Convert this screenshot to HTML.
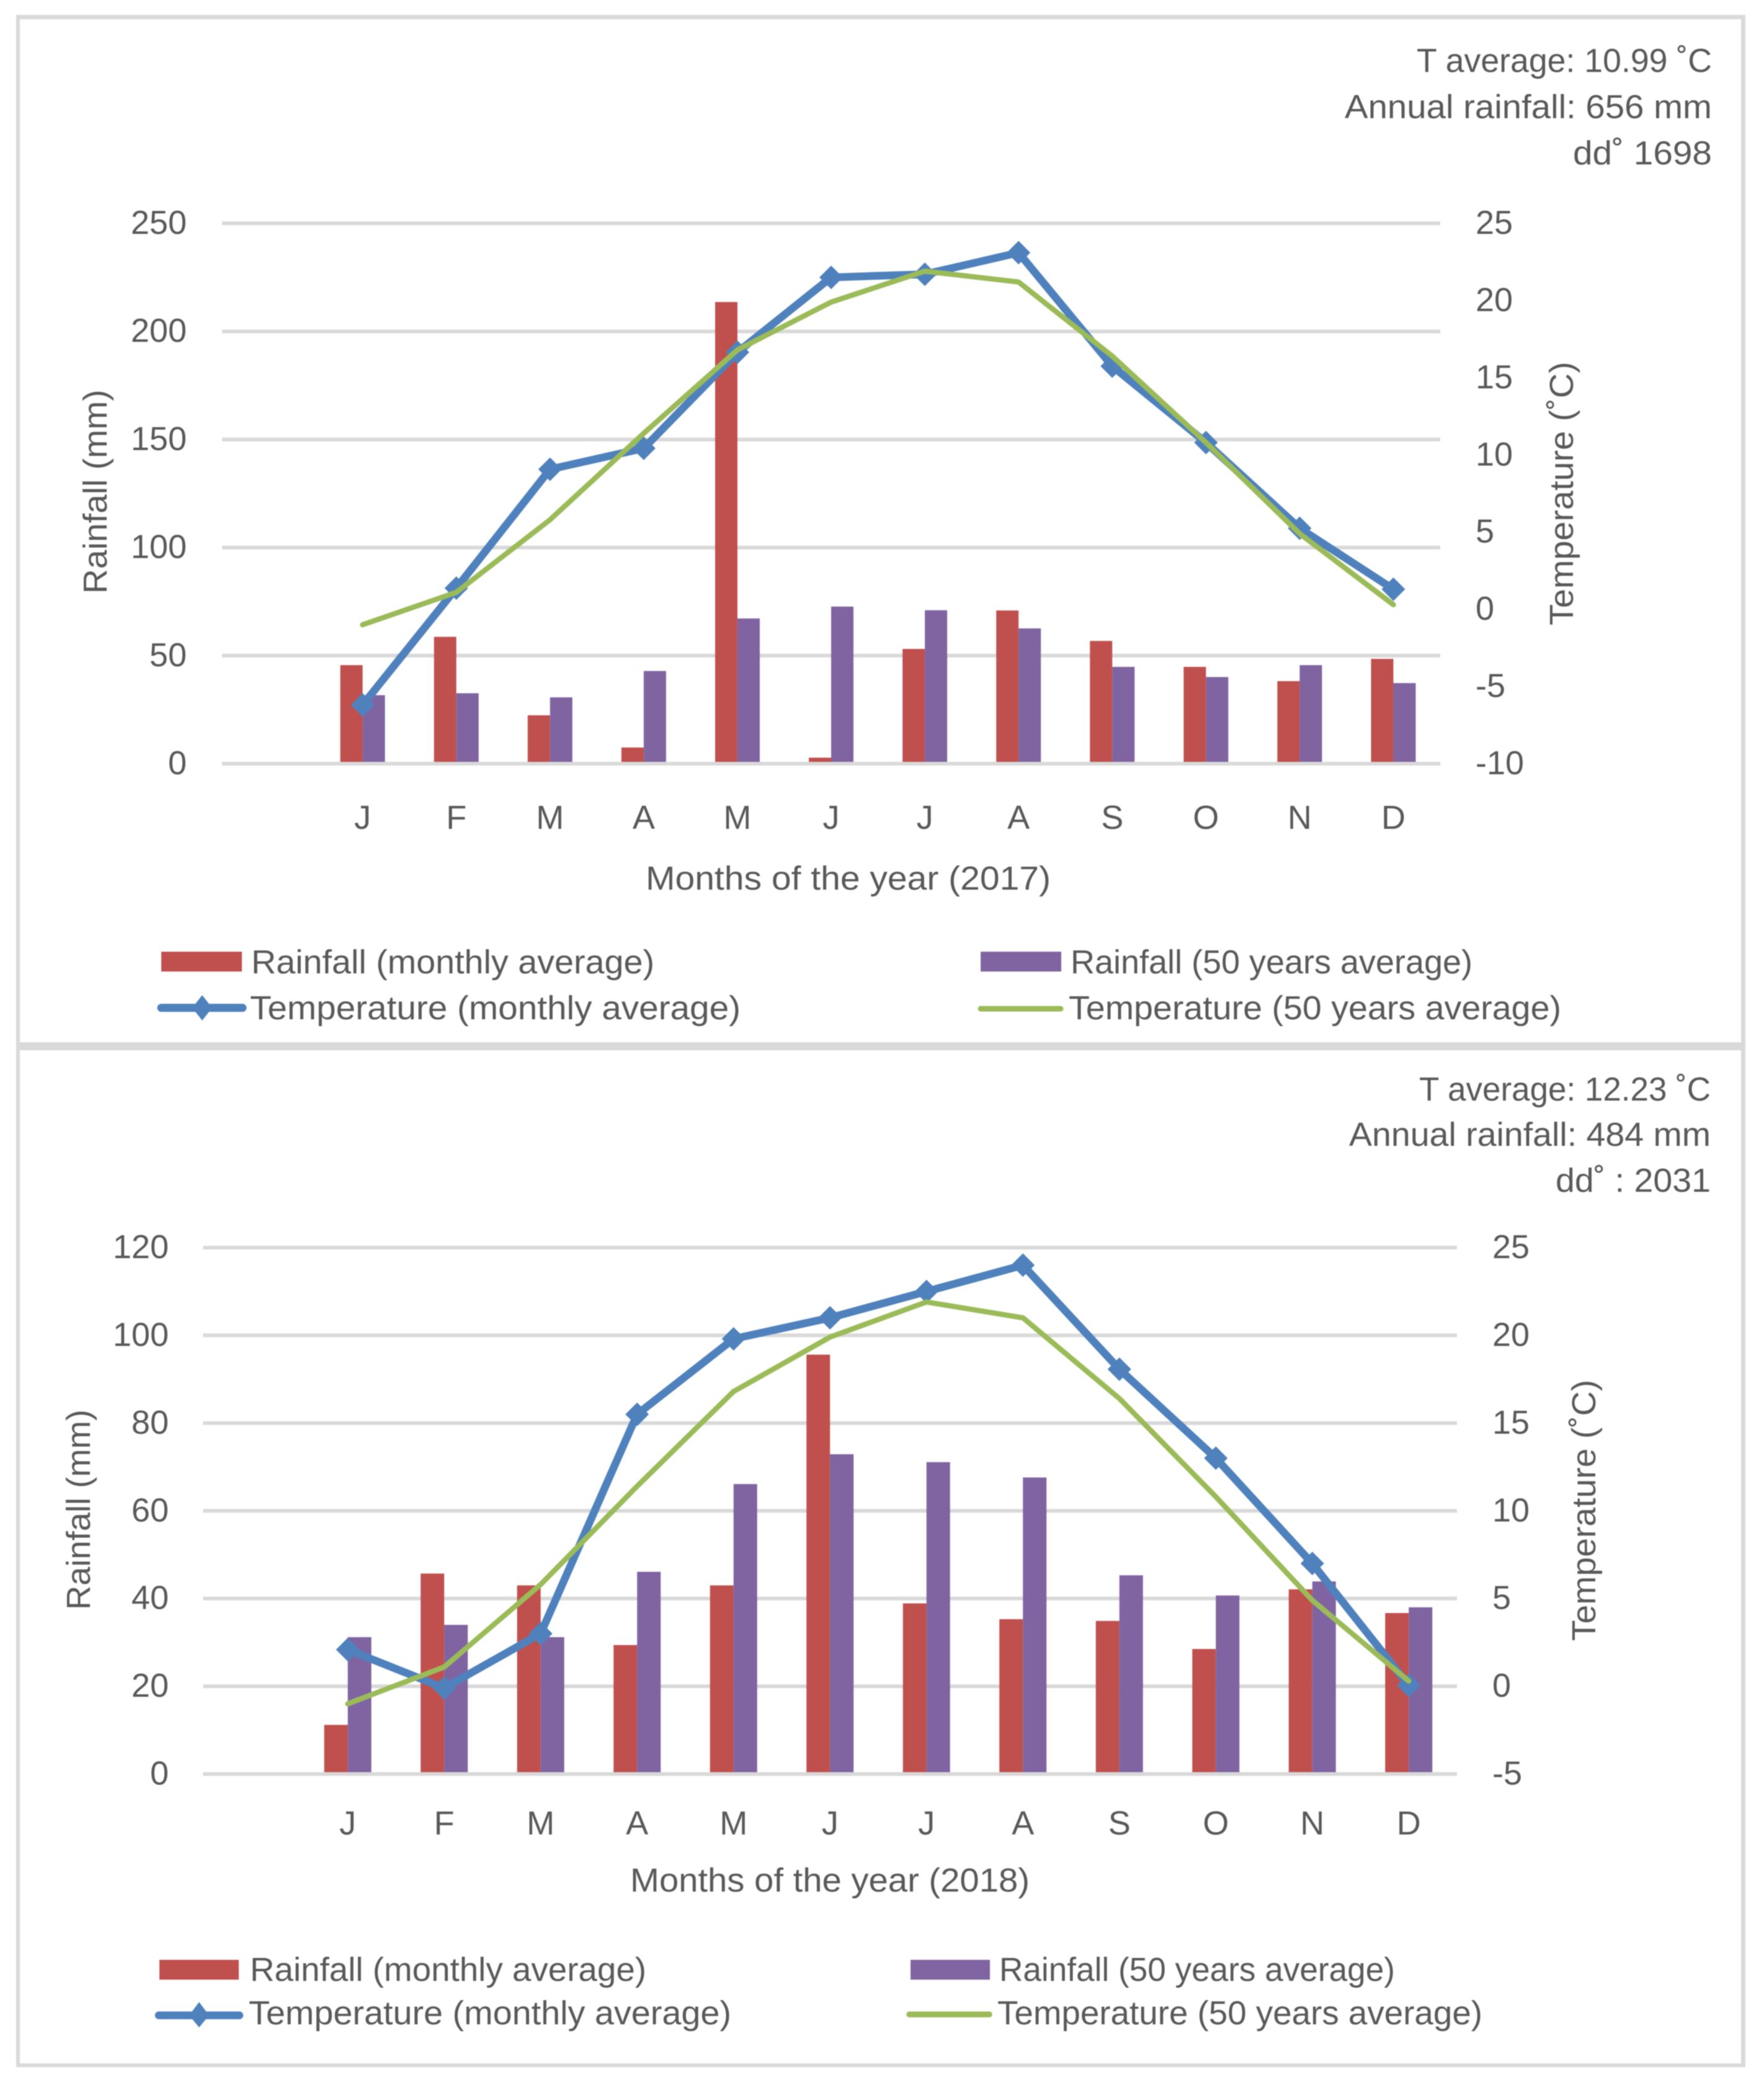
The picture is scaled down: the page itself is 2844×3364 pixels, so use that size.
<!DOCTYPE html>
<html lang="en">
<head>
<meta charset="utf-8">
<title>Rainfall and temperature climate diagrams 2017 and 2018</title>
<style>
  html, body { margin: 0; padding: 0; background: #ffffff; }
  svg { display: block; filter: blur(0.8px); }
  text { font-family: "Liberation Sans", sans-serif; font-size: 54px; fill: #595959; }
</style>
</head>
<body>
<svg id="figure" xmlns="http://www.w3.org/2000/svg" width="2844" height="3364" viewBox="0 0 2844 3364">
  <rect x="0" y="0" width="2844" height="3364" fill="#ffffff"/>
  <g fill="#d9d9d9">
    <rect x="26" y="24" width="2788" height="7"/>
    <rect x="26" y="24" width="6" height="3308"/>
    <rect x="2807" y="24" width="7" height="3308"/>
    <rect x="26" y="3326" width="2788" height="6"/>
    <rect x="26" y="1680" width="2788" height="13"/>
  </g>

  <g id="chart-2017">
    <g text-anchor="end">
      <text x="2760" y="116" textLength="476" lengthAdjust="spacingAndGlyphs">T average: 10.99 ˚C</text>
      <text x="2760" y="190.5" textLength="592" lengthAdjust="spacingAndGlyphs">Annual rainfall: 656 mm</text>
      <text x="2760" y="265" textLength="224" lengthAdjust="spacingAndGlyphs">dd˚ 1698</text>
    </g>
    <text transform="translate(172 957) rotate(-90)" textLength="329" lengthAdjust="spacingAndGlyphs">Rainfall (mm)</text>
    <text transform="translate(2536 1008) rotate(-90)" textLength="425" lengthAdjust="spacingAndGlyphs">Temperature (˚C)</text>
    <text x="1041" y="1434" textLength="653" lengthAdjust="spacingAndGlyphs">Months of the year (2017)</text>
    <g>
      <g>
        <rect x="260" y="1534" width="130" height="32" fill="#c0504d"/>
        <text x="405" y="1569" textLength="650" lengthAdjust="spacingAndGlyphs">Rainfall (monthly average)</text>
      </g>
      <g>
        <line x1="260" y1="1624.5" x2="391" y2="1624.5" stroke="#4f81bd" stroke-width="13" stroke-linecap="round"/>
        <polygon points="326,1604 342,1624.5 326,1645 310,1624.5" fill="#4f81bd"/>
        <text x="403" y="1643" textLength="791" lengthAdjust="spacingAndGlyphs">Temperature (monthly average)</text>
      </g>
      <g>
        <rect x="1581" y="1534" width="130" height="32" fill="#8064a2"/>
        <text x="1726" y="1569" textLength="648" lengthAdjust="spacingAndGlyphs">Rainfall (50 years average)</text>
      </g>
      <g>
        <line x1="1581" y1="1626" x2="1710" y2="1626" stroke="#9bbb59" stroke-width="9" stroke-linecap="round"/>
        <text x="1723" y="1643" textLength="794" lengthAdjust="spacingAndGlyphs">Temperature (50 years average)</text>
      </g>
    </g>
  </g>

  <g id="chart-2018">
    <g text-anchor="end">
      <text x="2758" y="1774" textLength="470" lengthAdjust="spacingAndGlyphs">T average: 12.23 ˚C</text>
      <text x="2758" y="1847" textLength="583" lengthAdjust="spacingAndGlyphs">Annual rainfall: 484 mm</text>
      <text x="2758" y="1921" textLength="250" lengthAdjust="spacingAndGlyphs">dd˚ : 2031</text>
    </g>
    <text transform="translate(145 2595) rotate(-90)" textLength="323" lengthAdjust="spacingAndGlyphs">Rainfall (mm)</text>
    <text transform="translate(2572 2645) rotate(-90)" textLength="421" lengthAdjust="spacingAndGlyphs">Temperature (˚C)</text>
    <text x="1016" y="3049" textLength="644" lengthAdjust="spacingAndGlyphs">Months of the year (2018)</text>
    <g>
      <g>
        <rect x="257" y="3159" width="128" height="32" fill="#c0504d"/>
        <text x="403" y="3193" textLength="639" lengthAdjust="spacingAndGlyphs">Rainfall (monthly average)</text>
      </g>
      <g>
        <line x1="256" y1="3248.5" x2="386" y2="3248.5" stroke="#4f81bd" stroke-width="12.5" stroke-linecap="round"/>
        <polygon points="321,3227 337,3248.5 321,3268 305,3248.5" fill="#4f81bd"/>
        <text x="401" y="3263" textLength="778" lengthAdjust="spacingAndGlyphs">Temperature (monthly average)</text>
      </g>
      <g>
        <rect x="1468" y="3159" width="128" height="32" fill="#8064a2"/>
        <text x="1611" y="3193" textLength="638" lengthAdjust="spacingAndGlyphs">Rainfall (50 years average)</text>
      </g>
      <g>
        <line x1="1466" y1="3247" x2="1595" y2="3247" stroke="#9bbb59" stroke-width="9.5" stroke-linecap="round"/>
        <text x="1608" y="3263" textLength="782" lengthAdjust="spacingAndGlyphs">Temperature (50 years average)</text>
      </g>
    </g>
  </g>
</svg>

<script>
// Shared axis categories
var months = ['J', 'F', 'M', 'A', 'M', 'J', 'J', 'A', 'S', 'O', 'N', 'D'];

// 2017 data
var rainTicks2017 = [0, 50, 100, 150, 200, 250];
var tempTicks2017 = [-10, -5, 0, 5, 10, 15, 20, 25];
var rainMonthly2017 = [45.6, 58.7, 22.4, 7.5, 213.6, 2.8, 53.1, 70.9, 56.8, 44.8, 38.2, 48.5];
var rainFifty2017 = [31.7, 32.6, 30.7, 42.9, 67.2, 72.7, 71, 62.6, 44.8, 40.1, 45.6, 37.3];
var tempMonthly2017 = [-6.2, 1.37, 9.07, 10.43, 16.65, 21.5, 21.7, 23.1, 15.75, 10.8, 5.25, 1.3];
var tempFifty2017 = [-1, 1.1, 5.8, 11.4, 16.8, 19.9, 21.9, 21.2, 16.4, 10.8, 4.9, 0.3];

// 2018 data
var rainTicks2018 = [0, 20, 40, 60, 80, 100, 120];
var tempTicks2018 = [-5, 0, 5, 10, 15, 20, 25];
var rainMonthly2018 = [11.2, 45.7, 43, 29.4, 43, 95.6, 38.9, 35.3, 34.9, 28.5, 42.1, 36.7];
var rainFifty2018 = [31.2, 34, 31.2, 46.1, 66.1, 72.9, 71.1, 67.6, 45.3, 40.7, 43.9, 38];
var tempMonthly2018 = [2.09, -0.1, 3, 15.5, 19.8, 21, 22.5, 24, 18.07, 13, 7, 0.05];
var tempFifty2018 = [-1, 1.1, 5.8, 11.4, 16.8, 19.9, 21.9, 21, 16.4, 10.8, 4.9, 0.3];

var SVG_NS = 'http://www.w3.org/2000/svg';

function make(parent, tag, attrs) {
  var el = document.createElementNS(SVG_NS, tag);
  for (var k in attrs) { el.setAttribute(k, attrs[k]); }
  parent.appendChild(el);
  return el;
}

function drawChart(rootId, year, layout, rainTicks, tempTicks, rainMonthly, rainFifty, tempMonthly, tempFifty) {
  var root = document.getElementById(rootId);
  var slots = months.length + 1; // the source chart keeps one empty leading category
  var step = (layout.right - layout.left) / slots;
  var rainMin = rainTicks[0], rainMax = rainTicks[rainTicks.length - 1];
  var tempMin = tempTicks[0], tempMax = tempTicks[tempTicks.length - 1];

  function xPos(i) { return layout.left + (i + 1.5) * step; }
  function yRain(v) { return layout.bottom - (v - rainMin) / (rainMax - rainMin) * (layout.bottom - layout.top); }
  function yTemp(v) { return layout.bottom - (v - tempMin) / (tempMax - tempMin) * (layout.bottom - layout.top); }

  var grid = make(root, 'g', {});
  
  
  rainTicks.forEach(function (t) {
    var line = make(grid, 'line', { x1: layout.left, x2: layout.right, y1: yRain(t), y2: yRain(t), stroke: '#d9d9d9', 'stroke-width': 6 });
    
    
  });

  var leftAxis = make(root, 'g', { 'text-anchor': 'end' });
  
  
  rainTicks.forEach(function (t) {
    var label = make(leftAxis, 'text', { x: layout.leftLabelX, y: yRain(t) + 17 });
    
    
    label.textContent = String(t);
  });

  var rightAxis = make(root, 'g', {});
  
  
  tempTicks.forEach(function (t) {
    var label = make(rightAxis, 'text', { x: layout.rightLabelX, y: yTemp(t) + 17 });
    
    
    label.textContent = String(t);
  });

  var bars = make(root, 'g', {});
  
  
  months.forEach(function (m, i) {
    var cx = xPos(i);
    var red = make(bars, 'rect', { x: cx - layout.barWidth, y: yRain(rainMonthly[i]), width: layout.barWidth, height: yRain(0) - yRain(rainMonthly[i]), fill: '#c0504d' });
    
    
    var purple = make(bars, 'rect', { x: cx, y: yRain(rainFifty[i]), width: layout.barWidth, height: yRain(0) - yRain(rainFifty[i]), fill: '#8064a2' });
    
    
  });

  var axisLine = make(root, 'line', { x1: layout.left, x2: layout.right, y1: yRain(0), y2: yRain(0), stroke: '#d9d9d9', 'stroke-width': 6 });
  
  

  var xAxis = make(root, 'g', { 'text-anchor': 'middle' });
  
  
  months.forEach(function (m, i) {
    var label = make(xAxis, 'text', { x: xPos(i), y: layout.monthLabelY });
    
    
    label.textContent = m;
  });

  var bluePts = tempMonthly.map(function (v, i) { return xPos(i) + ',' + yTemp(v); }).join(' ');
  var blue = make(root, 'polyline', { points: bluePts, fill: 'none', stroke: '#4f81bd', 'stroke-width': 12.5, 'stroke-linejoin': 'round', 'stroke-linecap': 'round' });
  
  

  var markers = make(root, 'g', {});
  
  
  tempMonthly.forEach(function (v, i) {
    var cx = xPos(i), cy = yTemp(v), r = 19;
    var d = make(markers, 'polygon', {
      points: cx + ',' + (cy - r) + ' ' + (cx + r) + ',' + cy + ' ' + cx + ',' + (cy + r) + ' ' + (cx - r) + ',' + cy,
      fill: '#4f81bd'
    });
    
    
  });

  var greenPts = tempFifty.map(function (v, i) { return xPos(i) + ',' + yTemp(v); }).join(' ');
  var green = make(root, 'polyline', { points: greenPts, fill: 'none', stroke: '#9bbb59', 'stroke-width': 8.5, 'stroke-linejoin': 'round', 'stroke-linecap': 'round' });
  
  
}

drawChart('chart-2017', 2017,
  { left: 358, right: 2322, top: 360, bottom: 1231, barWidth: 36, leftLabelX: 301, rightLabelX: 2379, monthLabelY: 1336 },
  rainTicks2017, tempTicks2017, rainMonthly2017, rainFifty2017, tempMonthly2017, tempFifty2017);

drawChart('chart-2018', 2018,
  { left: 327.4, right: 2349, top: 2011, bottom: 2859.5, barWidth: 38, leftLabelX: 272, rightLabelX: 2406, monthLabelY: 2957 },
  rainTicks2018, tempTicks2018, rainMonthly2018, rainFifty2018, tempMonthly2018, tempFifty2018);
</script>
</body>
</html>
